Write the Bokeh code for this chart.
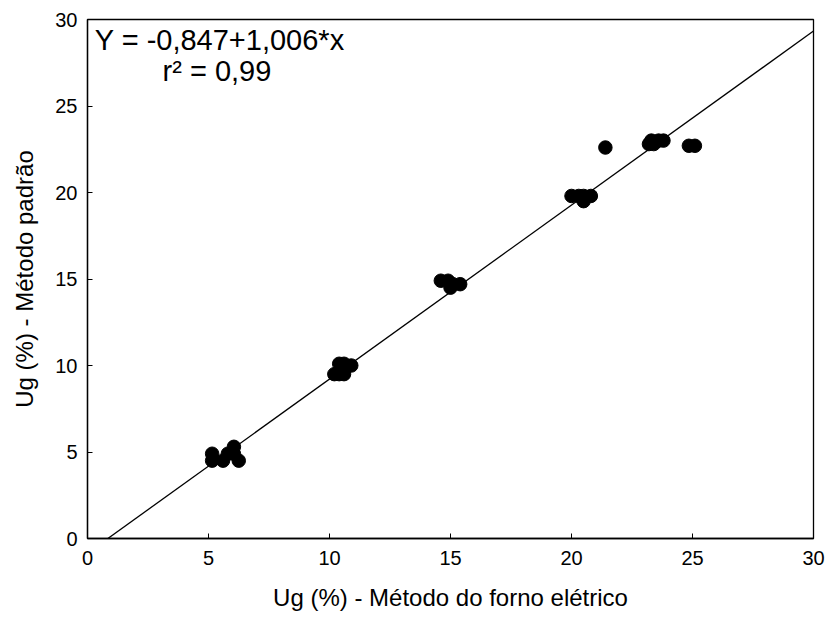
from bokeh.plotting import figure
from bokeh.models import Range1d, Label, FixedTicker
from bokeh.embed import file_html
from bokeh.resources import INLINE

# Data
x_forno = [5.15, 5.15, 5.6, 5.8, 6.05, 6.05, 6.25,
           10.2, 10.4, 10.4, 10.6, 10.6, 10.9,
           14.6, 14.9, 15.0, 15.1, 15.4,
           20.0, 20.3, 20.5, 20.5, 20.8,
           21.4,
           23.2, 23.3, 23.4, 23.6, 23.8,
           24.85, 25.1]
y_padrao = [4.9, 4.5, 4.5, 4.9, 5.3, 4.9, 4.5,
            9.5, 10.1, 9.5, 9.5, 10.1, 10.0,
            14.9, 14.9, 14.5, 14.7, 14.7,
            19.8, 19.8, 19.5, 19.8, 19.8,
            22.6,
            22.8, 23.0, 22.8, 23.0, 23.0,
            22.7, 22.7]
intercept = -0.847
slope = 1.006
ticks = [0, 5, 10, 15, 20, 25, 30]

FONT = "Liberation Sans"

p = figure(width=827, height=618, output_backend="svg", toolbar_location=None,
           x_range=Range1d(0, 30), y_range=Range1d(0, 30),
           min_border_left=87, min_border_right=14, min_border_top=19, min_border_bottom=80)
p.xgrid.visible = False
p.ygrid.visible = False
p.outline_line_color = "black"
p.outline_line_width = 1.3
p.background_fill_color = "white"
p.border_fill_color = "white"

for ax in (p.xaxis[0], p.yaxis[0]):
    ax.ticker = FixedTicker(ticks=ticks)
    ax.minor_tick_line_color = None
    ax.major_tick_in = 5
    ax.major_tick_out = 0
    ax.axis_line_color = "black"
    ax.axis_line_width = 1.3
    ax.major_tick_line_color = "black"
    ax.major_label_text_font = FONT
    ax.major_label_text_font_size = "20px"
    ax.major_label_text_color = "black"
    ax.axis_label_text_font = FONT
    ax.axis_label_text_font_size = "24px"
    ax.axis_label_text_font_style = "normal"
    ax.axis_label_text_color = "black"

p.xaxis.axis_label = "Ug (%) - Método do forno elétrico"
p.yaxis.axis_label = "Ug (%) - Método padrão"
p.xaxis.major_label_standoff = 12
p.yaxis.major_label_standoff = 10
p.xaxis.axis_label_standoff = 16
p.yaxis.axis_label_standoff = 14

x0 = -intercept / slope
x1 = 30
p.line([x0, x1], [intercept + slope * x0, intercept + slope * x1], line_color="black", line_width=1.3)
p.scatter(x_forno, y_padrao, size=13.5, marker="circle", fill_color="black", line_color="black")

p.add_layout(Label(x=0.3, y=29.75, text="Y = -0,847+1,006*x", text_font=FONT,
                   text_font_size="29px", text_baseline="top", text_color="black"))
p.add_layout(Label(x=3.1, y=27.95, text="r² = 0,99", text_font=FONT,
                   text_font_size="29px", text_baseline="top", text_color="black"))

open("out.html", "w").write(file_html(p, INLINE))
